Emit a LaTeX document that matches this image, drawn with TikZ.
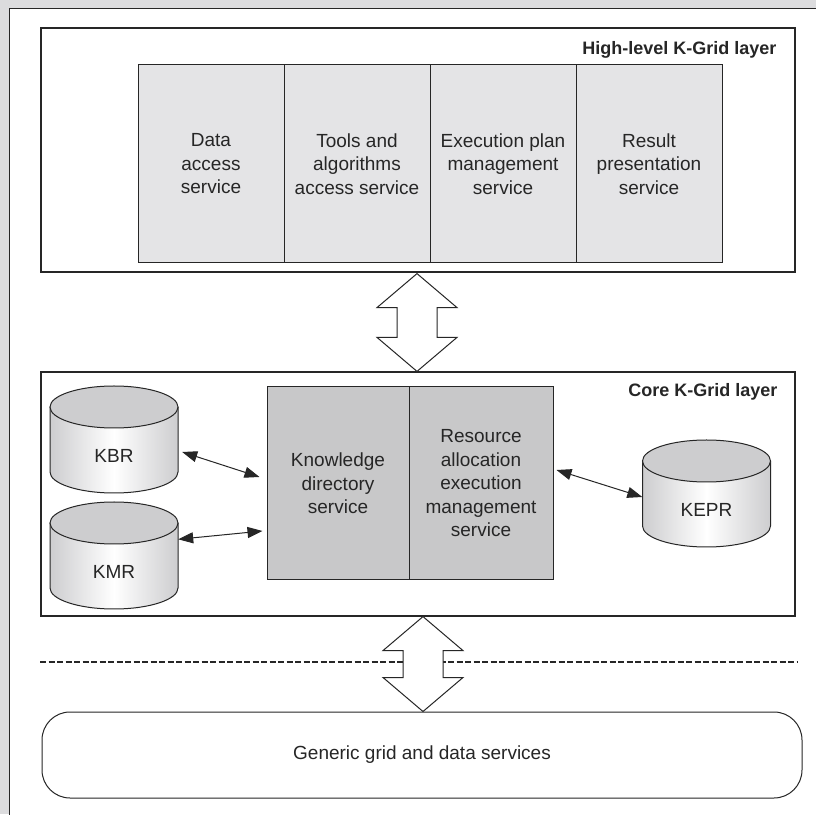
\documentclass[tikz,border=0pt]{standalone}
\usepackage{fontspec}
\setmainfont{Liberation Sans}
\usetikzlibrary{arrows.meta,calc}

\definecolor{pagegray}{HTML}{DCDCDE}
\definecolor{svclight}{HTML}{E4E4E6}
\definecolor{svcdark}{HTML}{C8C8C9}
\definecolor{drumgray}{HTML}{CDCDCF}
\definecolor{ink}{HTML}{262626}

\tikzset{
  layer/.style={draw=ink, line width=1.2pt, fill=white},
  svc/.style={draw=ink, line width=1pt, fill=svclight, align=center, inner sep=0pt, minimum height=198pt, minimum width=146pt},
  coresvc/.style={draw=ink, line width=1pt, fill=svcdark, align=center, inner sep=0pt, minimum height=193pt},
  dbl/.style={{Triangle[length=15pt,width=11pt]}-{Triangle[length=15pt,width=11pt]}, line width=1pt, draw=ink},
  bigarrow/.style={draw=ink, line width=1pt, fill=white, line join=miter},
  title/.style={anchor=east, font=\fontsize{18}{23.5}\selectfont\bfseries},
}

% cylinder store: name, centre x, y of top ellipse, label
\newcommand\drum[4]{%
  \shade[left color=drumgray, right color=drumgray, middle color=white]
    (#2-64,#3) -- (#2-64,#3-65) arc[start angle=180, end angle=360, x radius=64, y radius=21] -- (#2+64,#3) -- cycle;
  \draw[ink, line width=1pt] (#2-64,#3) -- (#2-64,#3-65) arc[start angle=180, end angle=360, x radius=64, y radius=21] -- (#2+64,#3);
  \draw[ink, line width=1pt, fill=drumgray] (#2,#3) ellipse[x radius=64, y radius=21];
  \node[minimum width=128pt, minimum height=65pt, inner sep=0pt] (#1) at (#2,#3-49) {#4};
}

% hollow up-down arrow between two coordinates on one vertical
\newcommand\updown[2]{%
  \draw[bigarrow] (#1) -- ++(40,-34) -- ++(-20,0) |- ($(#2)+(20,34)$) -- ++(20,0) -- (#2)
    -- ++(-40,34) -- ++(20,0) |- ($(#1)+(-20,-34)$) -- ++(-20,0) -- cycle;
}

\begin{document}
\begin{tikzpicture}[x=1pt, y=1pt, font=\fontsize{19}{23.5}\selectfont, text=ink]
  % page
  \fill[pagegray] (0,0) rectangle (816,814);
  \useasboundingbox (0,0) rectangle (816,814);
  \fill[white] (9.5,-5) rectangle (830,805.5);
  \draw[ink, line width=0.9pt] (9.5,-5) |- (830,805.5);

  % high-level layer
  \node[layer, minimum width=754pt, minimum height=244pt] (high) at (418,664) {};
  \node[title] (hightitle) at (780,764) {High-level K-Grid layer};
  \node[svc] (das) at (211,650) {Data\\access\\service};
  \node[svc] (taas) at (357,650) {Tools and\\algorithms\\access service};
  \node[svc] (epms) at (503,650) {Execution plan\\management\\service};
  \node[svc] (rps) at (649,650) {Result\\presentation\\service};

  % core layer
  \node[layer, minimum width=754pt, minimum height=244pt] (core) at (418,320) {};
  \node[title] (coretitle) at (781,422) {Core K-Grid layer};
  \node[coresvc, minimum width=142pt] (kds) at (338,330.5) {Knowledge\\directory\\service};
  \node[coresvc, minimum width=144pt] (raem) at (481,330.5) {Resource\\allocation\\execution\\management\\service};
  \drum{kbr}{114}{407}{KBR}
  \drum{kmr}{114}{291}{KMR}
  \drum{kepr}{706.5}{353}{KEPR}
  \draw[dbl] ([shift={(4,4)}]kbr.east) -- ([shift={(-7,6.5)}]kds.west);
  \draw[dbl] (kmr.north east) -- ([shift={(-4,-47.5)}]kds.west);
  \draw[dbl] ([shift={(3,13.5)}]raem.east) -- ([yshift=13pt]kepr.west);

  % grid services
  \node[draw=ink, line width=1pt, rounded corners=28pt, minimum width=760pt, minimum height=86pt] (generic) at (422,59) {Generic grid and data services};
  \draw[ink, line width=2.8pt, dash pattern=on 6pt off 2.5pt] (40,152) -- (798,152);

  % layer arrows
  \path ($(high.south)+(-1,-1)$) coordinate (a1top) (core.north -| a1top) coordinate (a1bot);
  \updown{a1top}{a1bot}
  \path ($(core.south)+(5,0)$) coordinate (a2top) (generic.north -| a2top) coordinate (a2bot);
  \updown{a2top}{a2bot}
\end{tikzpicture}
\end{document}
